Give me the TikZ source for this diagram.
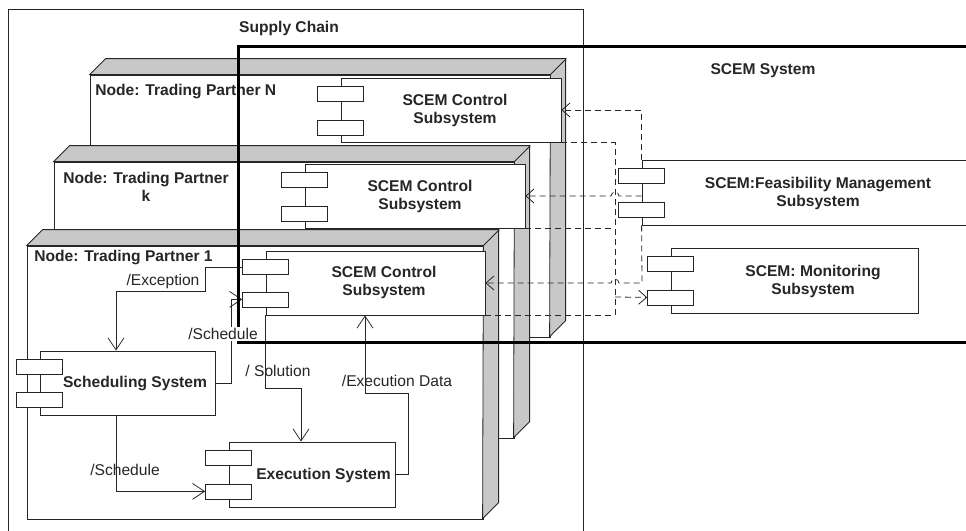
\documentclass[tikz,border=0pt]{standalone}
\usepackage{fontspec}
\setmainfont{Liberation Sans}
\usetikzlibrary{arrows.meta}

\definecolor{ink}{HTML}{262626}
\definecolor{shade}{HTML}{C8C8C8}

\tikzset{
  box3d/.style={draw=ink, fill=shade},
  face/.style={draw=ink, fill=white, inner sep=0pt},
  comp/.style={draw=ink, fill=white, inner sep=0pt},
  port/.style={draw=ink, fill=white, inner sep=0pt, minimum width=46pt, minimum height=15pt},
  title/.style={font=\fontsize{15.6}{18}\selectfont\bfseries, text=ink, align=center, inner sep=1pt},
  msg/.style={font=\fontsize{15.6}{18}\selectfont, text=ink, inner sep=1pt},
  flow/.style={draw=ink, -{Straight Barb[length=12pt,width=16pt]}},
  dep/.style={draw=ink, dash pattern=on 6pt off 4pt},
  deparr/.style={dep, -{Straight Barb[length=8pt,width=14pt]}},
  bound/.style={draw=black, line width=3pt}
}

\begin{document}
\begin{tikzpicture}[x=1pt, y=-1pt, line width=0.8pt]
\useasboundingbox (0,0) rectangle (966,530);

% supply chain
\draw[ink] (8,9) rectangle (583,545);
\node[title] (sc) at (289,28) {Supply Chain};

% trading partner N
\node[face, minimum width=460pt, minimum height=262pt] (tpN) at (320,206) {};
\draw[box3d] (tpN.north west) -- ++(16,-16) -- ++(460,0) -- ++(0,262) -- ++(-16,16) -- (tpN.north east) -- cycle;
\draw[ink] (tpN.north east) -- ++(16,-16);
\node[title, anchor=west] (tpNt) at (94,91) {Node: Trading Partner N};
\node[comp, minimum width=220pt, minimum height=64pt] (ctlN) at (451,110) {};
\node[port] (ctlNa) at ([yshift=-16.5pt]ctlN.north west) {};
\node[port] (ctlNb) at ([yshift=15pt]ctlN.south west) {};
\node[title] (ctlNt) at (455,110) {SCEM Control\\Subsystem};

% trading partner k
\node[face, minimum width=460pt, minimum height=276pt] (tpK) at (284,300) {};
\draw[box3d] (tpK.north west) -- ++(16,-16) -- ++(460,0) -- ++(0,276) -- ++(-16,16) -- (tpK.north east) -- cycle;
\draw[ink] (tpK.north east) -- ++(16,-16);
\node[title] (tpKt) at (146,187) {Node: Trading Partner\\k};
\node[comp, minimum width=220pt, minimum height=64pt] (ctlK) at (415,196) {};
\node[port] (ctlKa) at ([yshift=-16.5pt]ctlK.north west) {};
\node[port] (ctlKb) at ([yshift=15pt]ctlK.south west) {};
\node[title] (ctlKt) at (420,196) {SCEM Control\\Subsystem};

% trading partner 1
\node[face, minimum width=456pt, minimum height=273pt] (tp1) at (255,382.5) {};
\draw[box3d] (tp1.north west) -- ++(16,-16) -- ++(456,0) -- ++(0,273) -- ++(-16,16) -- (tp1.north east) -- cycle;
\draw[ink] (tp1.north east) -- ++(16,-16);
\node[title, anchor=west] (tp1t) at (33,257) {Node: Trading Partner 1};
\node[comp, minimum width=219pt, minimum height=64pt] (ctl1) at (375.5,283) {};
\node[port] (ctl1a) at ([yshift=-16.5pt]ctl1.north west) {};
\node[port] (ctl1b) at ([yshift=16pt]ctl1.south west) {};
\node[title] (ctl1t) at (384,282.5) {SCEM Control\\Subsystem};

\node[comp, minimum width=175pt, minimum height=64pt] (sched) at (127.5,383) {};
\node[port] (scheda) at ([yshift=-16pt]sched.north west) {};
\node[port] (schedb) at ([yshift=15.5pt]sched.south west) {};
\node[title] (schedt) at (135,383) {Scheduling System};

\node[comp, minimum width=166pt, minimum height=65pt] (exec) at (312,474.5) {};
\node[port] (execa) at ([yshift=-16.5pt]exec.north west) {};
\node[port] (execb) at ([yshift=16pt]exec.south west) {};
\node[title] (exect) at (323.5,475) {Execution System};

% SCEM system parts
\node[title] (scem) at (763,71) {SCEM System};
\node[comp, minimum width=354pt, minimum height=65pt] (feas) at (819,192.5) {};
\node[port] (feasa) at ([yshift=-16.5pt]feas.north west) {};
\node[port] (feasb) at ([yshift=16pt]feas.south west) {};
\node[title] (feast) at (818,193) {SCEM:Feasibility Management\\Subsystem};

\node[comp, minimum width=247pt, minimum height=65pt] (mon) at (794.5,280.5) {};
\node[port] (mona) at ([yshift=-16.5pt]mon.north west) {};
\node[port] (monb) at ([yshift=16pt]mon.south west) {};
\node[title] (mont) at (813,281) {SCEM: Monitoring\\Subsystem};

% flows inside trading partner 1
\draw[flow] (ctl1a.west) -| (205,291) -| ([xshift=-11.5pt]sched.north);
\node[msg] (excL) at (163,281) {/Exception};
\draw[flow] (sched.east) -- ++(16,0) |- (ctl1b.west);
\draw[flow] (ctl1.south west) -- ++(0,73) -| ([xshift=-11pt]exec.north);
\node[msg] (solL) at (278,371) {/ Solution};
\draw[flow] (exec.east) -- ++(13,0) -- ++(0,-81.5) -| ([xshift=-10.5pt]ctl1.south);
\node[msg] (edL) at (397,381) {/Execution Data};
\draw[flow] ([xshift=-11.5pt]sched.south) |- (execb.west);
\node[msg] (schL2) at (125,470) {/Schedule};

% feasibility and monitoring links
\coordinate (bus) at (615,297);
\draw[deparr] (feas.north west) |- (ctlN.east);
\draw[deparr] (ctlK.east -| feas.west) -- (619,196) .. controls (619,191) and (611,191) .. (611,196) -- (ctlK.east);
\draw[deparr] (feas.south west) -- (642,283) -- (619,283) .. controls (619,278) and (611,278) .. (611,283) -- (ctl1.east);
\draw[dep] (ctlN.south east) -| (bus);
\draw[dep] (ctlK.south east) -- (ctlK.south east -| bus);
\draw[dep] (ctl1.south east) -| (bus);
\draw[deparr] (bus) -- (monb.west);

% SCEM system boundary
\draw[bound] (990,46.5) -- (238,46.5) -- (238,342) -- (990,342);
\node[msg, fill=white] (schL1) at (223,334) {/Schedule};
\end{tikzpicture}
\end{document}
